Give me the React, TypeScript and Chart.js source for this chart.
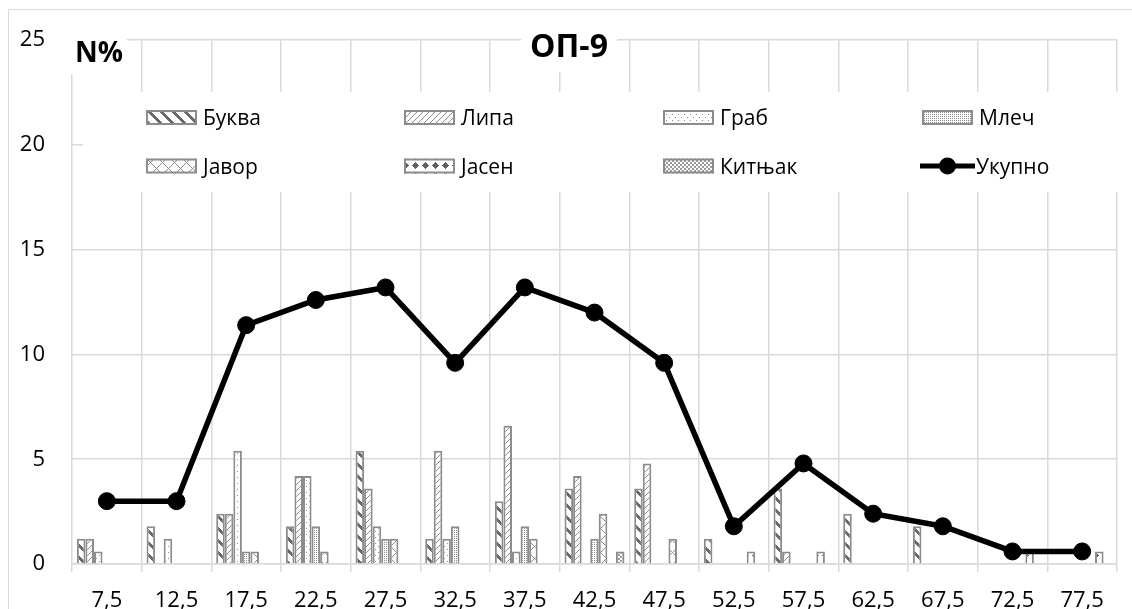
import React, { useEffect, useRef } from 'react';
import { Chart, registerables } from 'chart.js';
Chart.register(...registerables);

const categories = ['7,5', '12,5', '17,5', '22,5', '27,5', '32,5', '37,5', '42,5', '47,5', '52,5', '57,5', '62,5', '67,5', '72,5', '77,5'];
const bukva = [1.2, 1.8, 2.4, 1.8, 5.4, 1.2, 3.0, 3.6, 3.6, 1.2, 3.6, 2.4, 1.8, null, null];
const lipa = [1.2, null, 2.4, 4.2, 3.6, 5.4, 6.6, 4.2, 4.8, null, 0.6, null, null, null, null];
const grab = [0.6, 1.2, 5.4, 4.2, 1.8, 1.2, 0.6, null, null, null, null, null, null, null, null];
const mlec = [null, null, 0.6, 1.8, 1.2, 1.8, 1.8, 1.2, null, null, null, null, null, null, null];
const javor = [null, null, 0.6, 0.6, 1.2, null, 1.2, 2.4, 1.2, null, null, null, null, null, null];
const jasen = [null, null, null, null, null, null, null, null, null, 0.6, 0.6, null, null, 0.6, 0.6];
const kitnjak = [null, null, null, null, null, null, null, 0.6, null, null, null, null, null, null, null];
const ukupno = [3.0, 3.0, 11.4, 12.6, 13.2, 9.6, 13.2, 12.0, 9.6, 1.8, 4.8, 2.4, 1.8, 0.6, 0.6];
const seriesNames = ['Буква', 'Липа', 'Граб', 'Млеч', 'Јавор', 'Јасен', 'Китњак'];
const totalName = 'Укупно';
const yTicks = [0, 5, 10, 15, 20, 25];
const titleText = 'ОП-9';
const yUnitText = 'N%';

const FONT = "'Open Sans', 'Noto Sans', sans-serif";
const GRID = '#d9d9d9';
const BORDER = '#8c8c8c';

type Mask = (x: number, y: number) => boolean;

function tile(size: number, color: string, mask: Mask): HTMLCanvasElement {
  const c = document.createElement('canvas');
  c.width = size;
  c.height = size;
  const g = c.getContext('2d') as CanvasRenderingContext2D;
  g.fillStyle = '#ffffff';
  g.fillRect(0, 0, size, size);
  g.fillStyle = color;
  for (let y = 0; y < size; y++) {
    for (let x = 0; x < size; x++) {
      if (mask(x, y)) g.fillRect(x, y, 1, 1);
    }
  }
  return c;
}

function makePatterns(ctx: CanvasRenderingContext2D): (CanvasPattern | string)[] {
  const defs: [number, string, Mask][] = [
    [12, '#6a6a6a', (x, y) => ((x - y + 24) % 12) < 4],
    [6, '#8a8a8a', (x, y) => (x + y) % 6 === 0],
    [6, '#8a8a8a', (x, y) => (x % 6 === 0 && y % 6 === 0) || (x % 6 === 3 && y % 6 === 3)],
    [2, '#8a8a8a', (x, y) => x === 0 && y === 0],
    [12, '#8a8a8a', (x, y) => (x - y + 24) % 12 === 0 || (x + y) % 12 === 0],
    [10, '#606060', (x, y) => Math.abs(x - 5) + Math.abs(y - 5) <= 3],
    [4, '#9a9a9a', (x, y) => (Math.floor(x / 2) + Math.floor(y / 2)) % 2 === 0],
  ];
  return defs.map(([s, c, m]) => ctx.createPattern(tile(s, c, m), 'repeat') || '#ffffff');
}

export default function App() {
  const ref = useRef<HTMLCanvasElement | null>(null);

  useEffect(() => {
    const canvas = ref.current;
    if (!canvas) return;
    const ctx0 = canvas.getContext('2d') as CanvasRenderingContext2D;
    const patterns = makePatterns(ctx0);
    const barData = [bukva, lipa, grab, mlec, javor, jasen, kitnjak];

    const decor = {
      id: 'decor',
      afterDraw(chart: any) {
        const ctx = chart.ctx as CanvasRenderingContext2D;
        ctx.save();
        ctx.fillStyle = '#ffffff';
        ctx.fillRect(83, 92, 1040, 100);
        ctx.fillRect(521, 20, 96, 52);
        ctx.fillRect(58, 20, 69, 54);
        ctx.fillStyle = '#000';
        ctx.textBaseline = 'alphabetic';
        ctx.textAlign = 'center';
        ctx.font = `bold 32px ${FONT}`;
        ctx.fillText(titleText, 569, 57);
        ctx.textAlign = 'left';
        ctx.font = `bold 28px ${FONT}`;
        ctx.fillText(yUnitText, 75, 62);
        const cols = [146, 404, 663, 922];
        const rows = [117.5, 166];
        ctx.font = `21px ${FONT}`;
        for (let i = 0; i < 8; i++) {
          const cx = cols[i % 4];
          const cy = rows[Math.floor(i / 4)];
          if (i < 7) {
            ctx.fillStyle = patterns[i] as any;
            ctx.fillRect(cx, cy - 7.5, 51, 15);
            ctx.strokeStyle = BORDER;
            ctx.lineWidth = 2;
            ctx.strokeRect(cx + 1, cy - 6.5, 49, 13);
            ctx.fillStyle = '#000';
            ctx.fillText(seriesNames[i], cx + 57, cy + 7.5);
          } else {
            ctx.strokeStyle = '#000';
            ctx.lineWidth = 5;
            ctx.beginPath();
            ctx.moveTo(cx - 2, cy);
            ctx.lineTo(cx + 53, cy);
            ctx.stroke();
            ctx.fillStyle = '#000';
            ctx.beginPath();
            ctx.arc(cx + 25.5, cy, 8.5, 0, Math.PI * 2);
            ctx.fill();
            ctx.fillText(totalName, cx + 54, cy + 7.5);
          }
        }
        ctx.restore();
      },
    };

    const chart = new Chart(canvas, {
      type: 'bar',
      data: {
        labels: categories,
        datasets: [
          {
            type: 'line',
            label: totalName,
            data: ukupno,
            borderColor: '#000',
            backgroundColor: '#000',
            borderWidth: 5.5,
            pointRadius: 8.5,
            pointBorderWidth: 1,
            pointBackgroundColor: '#000',
            pointBorderColor: '#000',
            order: 0,
          } as any,
          ...barData.map((d, i) => ({
            type: 'bar',
            label: seriesNames[i],
            data: d,
            backgroundColor: patterns[i],
            borderColor: BORDER,
            borderWidth: 2,
            barPercentage: 1,
            categoryPercentage: 0.86,
            order: 1,
          })) as any,
        ],
      },
      options: {
        responsive: false,
        animation: false,
        devicePixelRatio: 1,
        layout: { padding: { left: 0, right: 15, top: 33, bottom: 0 } },
        plugins: {
          legend: { display: false },
          tooltip: { enabled: false },
          title: { display: false },
        },
        scales: {
          x: {
            afterFit: (s: any) => { s.height = 56; },
            grid: { color: GRID, lineWidth: 1.5, offset: true, drawTicks: true, tickLength: 8 },
            border: { display: true, color: GRID, width: 1.5 },
            ticks: { font: { family: FONT, size: 22 }, color: '#000', padding: 16, maxRotation: 0, autoSkip: false },
          },
          y: {
            min: 0,
            max: 25,
            afterFit: (s: any) => { s.width = 72; },
            afterBuildTicks: (s: any) => { s.ticks = yTicks.map((v) => ({ value: v })); },
            grid: { color: GRID, lineWidth: 1.5, drawTicks: false },
            border: { display: false },
            ticks: { font: { family: FONT, size: 22 }, color: '#000', padding: 27 },
          },
        },
      },
      plugins: [decor],
    } as any);

    return () => chart.destroy();
  }, []);

  return (
    <div style={{ position: 'fixed', left: 0, top: 0, width: 1132, height: 609, overflow: 'hidden', background: '#fff' }}>
      <div style={{ position: 'absolute', left: 8, top: 9, width: 1200, height: 700, borderLeft: `1.5px solid ${GRID}`, borderTop: `1.5px solid ${GRID}` }} />
      <canvas ref={ref} width={1132} height={620} style={{ position: 'absolute', left: 0, top: 0, width: 1132, height: 620 }} />
    </div>
  );
}
